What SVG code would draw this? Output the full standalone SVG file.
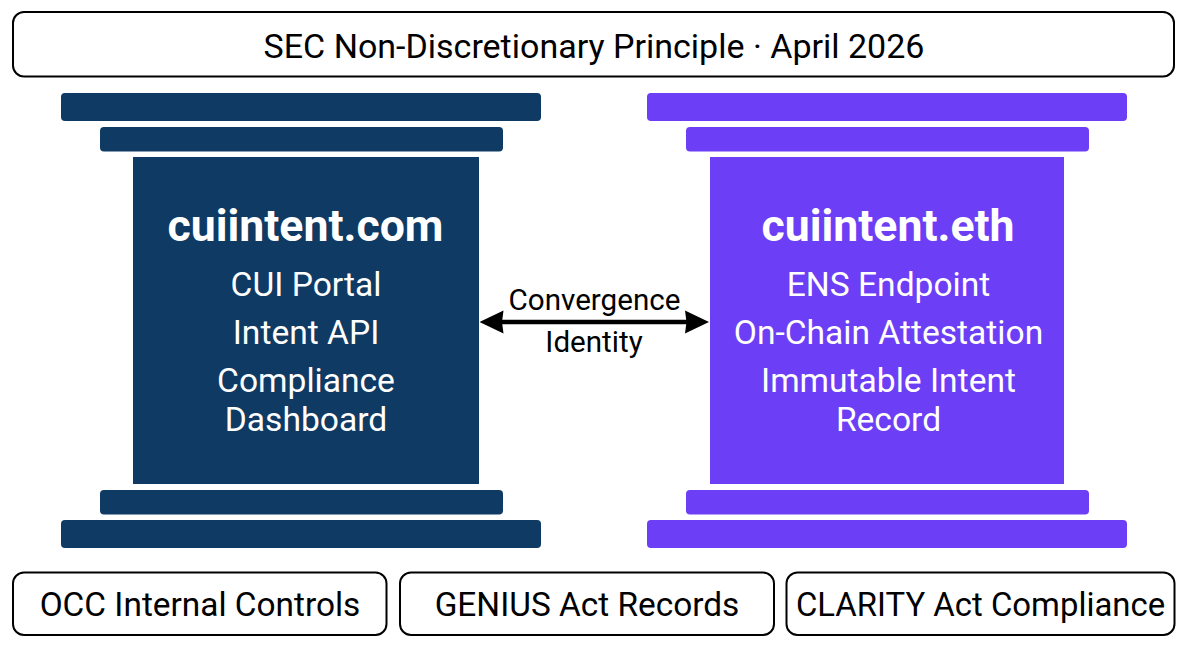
<svg xmlns="http://www.w3.org/2000/svg" width="1187" height="647" viewBox="0 0 1187 647">
<style>
text{font-family:Roboto,"Liberation Sans",sans-serif;text-anchor:middle}
.box{fill:#fff;stroke:#000;stroke-width:2}
.lbl{font-size:34px;fill:#000}
.navy{fill:#0f3a63}
.violet{fill:#6c3ef5}
.head{font-size:44.600px;font-weight:700;fill:#fff}
.item{font-size:33.600px;fill:#fff}
.mid{font-size:29.600px;fill:#000}
</style>
<defs>
<marker id="arrow" viewBox="0 0 24 24" refX="14" refY="12" markerUnits="userSpaceOnUse" markerWidth="24" markerHeight="24" orient="auto-start-reverse"><path d="M0 0.500L24 12L0 23.500L1.500 12Z" fill="#000"/></marker>
</defs>
<rect width="1187" height="647" fill="#fff"/>
<g id="banner"><rect class="box" x="13" y="12" width="1161" height="64.500" rx="11"/><text class="lbl" x="594" y="58">SEC Non-Discretionary Principle · April 2026</text></g>
<g id="pillar-com">
<rect class="navy" x="61" y="93" width="480" height="28" rx="4"/>
<rect class="navy" x="100" y="127" width="403" height="24.500" rx="4"/>
<rect class="navy" x="133" y="157" width="346" height="327"/>
<rect class="navy" x="100" y="490" width="403" height="24.500" rx="4"/>
<rect class="navy" x="61" y="520" width="480" height="28" rx="4"/>
<text class="head" x="305.500" y="240.500">cuiintent.com</text>
<text class="item" x="306" y="296">CUI Portal</text>
<text class="item" x="306" y="343.500">Intent API</text>
<text class="item" x="306" y="391.500">Compliance</text>
<text class="item" x="306" y="430.500">Dashboard</text>
</g>
<g id="pillar-eth">
<rect class="violet" x="647" y="93" width="480" height="28" rx="4"/>
<rect class="violet" x="686" y="127" width="403" height="24.500" rx="4"/>
<rect class="violet" x="710" y="157" width="354" height="327"/>
<rect class="violet" x="686" y="490" width="403" height="24.500" rx="4"/>
<rect class="violet" x="647" y="520" width="480" height="28" rx="4"/>
<text class="head" x="888" y="240.500">cuiintent.eth</text>
<text class="item" x="888.500" y="296">ENS Endpoint</text>
<text class="item" x="888.500" y="343.500">On-Chain Attestation</text>
<text class="item" x="888.500" y="391.500">Immutable Intent</text>
<text class="item" x="888.500" y="430.500">Record</text>
</g>
<g id="connectors"><line x1="489.500" y1="322" x2="699" y2="322" stroke="#000" stroke-width="4.500" marker-start="url(#arrow)" marker-end="url(#arrow)"/></g>
<g id="convergence-label"><text class="mid" x="594.500" y="309.500">Convergence</text><text class="mid" x="594" y="352">Identity</text></g>
<g id="occ"><rect class="box" x="13" y="572.500" width="373.500" height="62.500" rx="11"/><text class="lbl" style="font-size:33.400px" x="200" y="616">OCC Internal Controls</text></g>
<g id="genius"><rect class="box" x="400" y="572.500" width="374" height="62.500" rx="11"/><text class="lbl" style="font-size:33.400px" x="587" y="616">GENIUS Act Records</text></g>
<g id="clarity"><rect class="box" x="786.500" y="572.500" width="388" height="62.500" rx="11"/><text class="lbl" style="font-size:32.900px" x="980.500" y="616">CLARITY Act Compliance</text></g>
</svg>
